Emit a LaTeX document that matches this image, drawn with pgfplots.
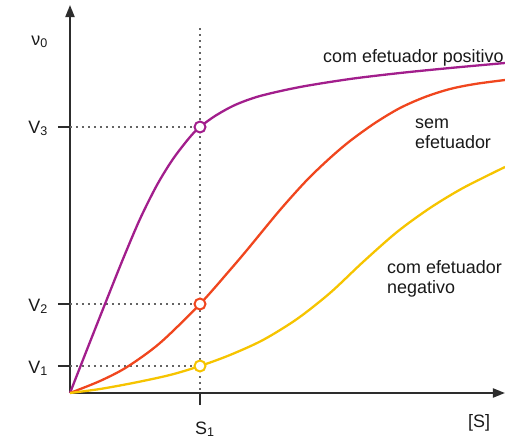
\documentclass[border=0pt]{standalone}
\usepackage{pgfplots}
\pgfplotsset{compat=1.18}
\usepackage{fontspec}
\setmainfont{Liberation Sans}
\usetikzlibrary{arrows.meta}
\definecolor{cpos}{RGB}{162,30,140}
\definecolor{csem}{RGB}{240,70,30}
\definecolor{cneg}{RGB}{246,196,0}
\definecolor{cdot}{RGB}{100,100,100}
\definecolor{caxis}{RGB}{45,45,45}
\definecolor{ctext}{RGB}{25,25,25}
\begin{document}
\fontsize{18}{20}\selectfont
\begin{tikzpicture}
\begin{axis}[
  name=ax,
  x=1bp, y=1bp,
  xmin=70, xmax=505, ymin=50, ymax=438,
  axis lines=left,
  axis line style={line width=1.8bp, draw=caxis, -{Triangle[length=12bp,width=9bp]}},
  ytick={77,139,316}, xtick={200},
  yticklabels={,,,}, xticklabels={,},
  tick align=outside,
  major tick length=12bp,
  tick style={line width=1.8bp, draw=caxis},
  clip=false,
  every axis plot/.append style={line width=2.3bp},
]
% dotted guides
\addplot[cdot, line width=2bp, dash pattern=on 2bp off 4bp, forget plot] coordinates {(70,316) (196,316)};
\addplot[cdot, line width=2bp, dash pattern=on 2bp off 4bp, forget plot] coordinates {(70,139) (196,139)};
\addplot[cdot, line width=2bp, dash pattern=on 2bp off 4bp, forget plot] coordinates {(70,77) (196,77)};
\addplot[cdot, line width=2bp, dash pattern=on 2bp off 4bp, forget plot] coordinates {(200,415) (200,50)};
% com efetuador positivo
\addplot[cpos, smooth] coordinates {
(70,50) (88,96) (105,139) (123,184) (140,224) (157,258) (173,284) (190,306) (200,316) (215,327) (235,338) (260,347) (300,356) (350,364) (400,370) (450,375) (505,380)};
% sem efetuador
\addplot[csem, smooth] coordinates {
(70,50) (100,62) (127,76) (160,100) (200,139) (230,173) (247,193) (280,233) (307,263) (330,285) (350,302) (375,320) (400,335) (425,346) (450,354) (475,359) (505,363)};
% com efetuador negativo
\addplot[cneg, smooth] coordinates {
(70,50) (100,54) (133,60) (170,68) (200,77) (230,88) (263,103) (297,124) (330,150) (363,181) (397,211) (430,235) (463,255) (505,276)};
% points
\addplot[only marks, mark=*, mark size=5.5bp, mark options={draw=cpos, fill=white, line width=2bp}] coordinates {(200,316)};
\addplot[only marks, mark=*, mark size=5.5bp, mark options={draw=csem, fill=white, line width=2bp}] coordinates {(200,139)};
\addplot[only marks, mark=*, mark size=5.5bp, mark options={draw=cneg, fill=white, line width=2bp}] coordinates {(200,77)};
% labels
\node[anchor=base west, inner sep=0, text=ctext] at (axis cs:323,381) {com efetuador positivo};
\node[anchor=base west, inner sep=0, text=ctext] at (axis cs:415,315) {sem};
\node[anchor=base west, inner sep=0, text=ctext] at (axis cs:415,295) {efetuador};
\node[anchor=base west, inner sep=0, text=ctext] at (axis cs:387,170) {com efetuador};
\node[anchor=base west, inner sep=0, text=ctext] at (axis cs:387,150) {negativo};
\node[anchor=base east, inner sep=0, text=ctext] at (axis cs:48,398) {ν\textsubscript{0}};
\node[anchor=base east, inner sep=0, text=ctext] at (axis cs:48,310) {V\textsubscript{3}};
\node[anchor=base east, inner sep=0, text=ctext] at (axis cs:48,132) {V\textsubscript{2}};
\node[anchor=base east, inner sep=0, text=ctext] at (axis cs:48,70) {V\textsubscript{1}};
\node[anchor=base west, inner sep=0, text=ctext] at (axis cs:195,9) {S\textsubscript{1}};
\node[anchor=base west, inner sep=0, text=ctext] at (axis cs:468,16) {[S]};
\end{axis}
\pgfresetboundingbox
\path[use as bounding box] (ax.south west) ++(-70bp,-50bp) rectangle ++(505bp,443bp);
\end{tikzpicture}
\end{document}
